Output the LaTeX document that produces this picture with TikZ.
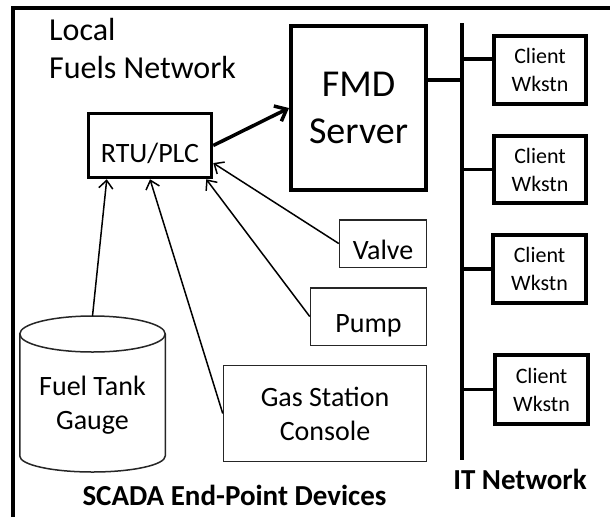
\documentclass[tikz,border=0pt]{standalone}
\usepackage{fontspec}
\setmainfont{Carlito}
\usetikzlibrary{arrows.meta,calc}
\begin{document}
\begin{tikzpicture}[x=1pt,y=-1pt,
  bigbox/.style={draw, line width=3.5pt, inner sep=0pt, align=center},
  smallbox/.style={draw=black!85, line width=1.5pt, inner sep=0pt, align=center},
  thinarr/.style={line width=1.5pt, -{Straight Barb[length=8pt,width=14pt]}},
  thickarr/.style={line width=3.5pt, -{Straight Barb[length=10pt,width=17pt]}},
  wire/.style={line width=3.5pt},
  midfont/.style={font=\fontsize{28}{34}\selectfont},
  clientfont/.style={font=\fontsize{22}{28}\selectfont},
  boldfont/.style={font=\bfseries\fontsize{29}{35}\selectfont}
]
\useasboundingbox (0,0) rectangle (610,517);
\fill[white] (0,0) rectangle (610,517);
% outer frame
\draw[line width=4pt] (13,517) -- (13,8) -- (610,8);

% title
\node[anchor=north west, inner sep=0pt, align=left, font=\fontsize{32}{38}\selectfont] (title) at (49,18) {Local\\Fuels Network};

% RTU and server
\node[bigbox, midfont, minimum width=123pt, text height=48.5pt, text depth=15.5pt] (rtu) at (150,145.5) {RTU/PLC};
\node[bigbox, line width=4pt, minimum width=135pt, minimum height=164pt, font=\fontsize{38}{47}\selectfont] (fmd) at (358.5,108) {FMD\\Server};

% IT network bus and clients
\coordinate (bustop) at (462,23);
\coordinate (busbot) at (462,460);
\coordinate (j0) at (462,80);
\coordinate (j1) at (462,59);
\draw[wire] (bustop) -- (busbot);
\node[bigbox, clientfont, minimum width=92pt, minimum height=68pt] (c1) at (540,70) {Client\\Wkstn};
\node[bigbox, clientfont, minimum width=92pt, minimum height=67pt] (c2) at (540,169.5) {Client\\Wkstn};
\node[bigbox, clientfont, minimum width=93pt, minimum height=68pt] (c3) at (539.5,269) {Client\\Wkstn};
\node[bigbox, clientfont, minimum width=93pt, minimum height=69pt] (c4) at (541.5,389.5) {Client\\Wkstn};
\draw[wire] (fmd.east |- j0) -- (j0);
\draw[wire] (j1) -- (c1.west |- j1);
\draw[wire] (c2.west -| bustop) -- (c2.west);
\draw[wire] (c3.west -| bustop) -- (c3.west);
\draw[wire] (c4.west -| bustop) -- (c4.west);

\draw[thickarr] (rtu.east) -- (fmd.west);

% end-point devices
\node[smallbox, midfont, minimum width=87pt, text height=39.25pt, text depth=8.25pt] (valve) at (383,243.5) {Valve};
\node[smallbox, midfont, minimum width=116pt, text height=44.25pt, text depth=13.25pt] (pump) at (368.5,316.5) {Pump};
\node[smallbox, midfont, minimum width=203pt, minimum height=96pt] (gas) at (325,413.5) {Gas Station\\Console};

% fuel tank cylinder
\coordinate (tanktop) at (92.5,316);
\draw[black!85, line width=1.5pt] (92.5,334) ellipse [x radius=72.75, y radius=18];
\draw[black!85, line width=1.5pt] (19.75,334) -- (19.75,456) arc[start angle=180, end angle=0, x radius=72.75, y radius=16] -- (165.25,334);
\node[midfont, align=center, inner sep=0pt] (tank) at (92.5,405) {Fuel Tank\\Gauge};

% arrows to RTU
\draw[thinarr] (valve.west) -- ($(rtu.south east)!0.24!(rtu.north east)$);
\draw[thinarr] (pump.west) -- ([xshift=-7pt]rtu.south east);
\draw[thinarr] (gas.west) -- (rtu.south);
\draw[thinarr] (tanktop) -- ([xshift=20pt]rtu.south west);

% labels
\node[boldfont, anchor=base, inner sep=0pt] (scada) at (234.5,505) {SCADA End-Point Devices};
\node[boldfont, anchor=base, inner sep=0pt] (itnet) at (520,489) {IT Network};
\end{tikzpicture}
\end{document}
